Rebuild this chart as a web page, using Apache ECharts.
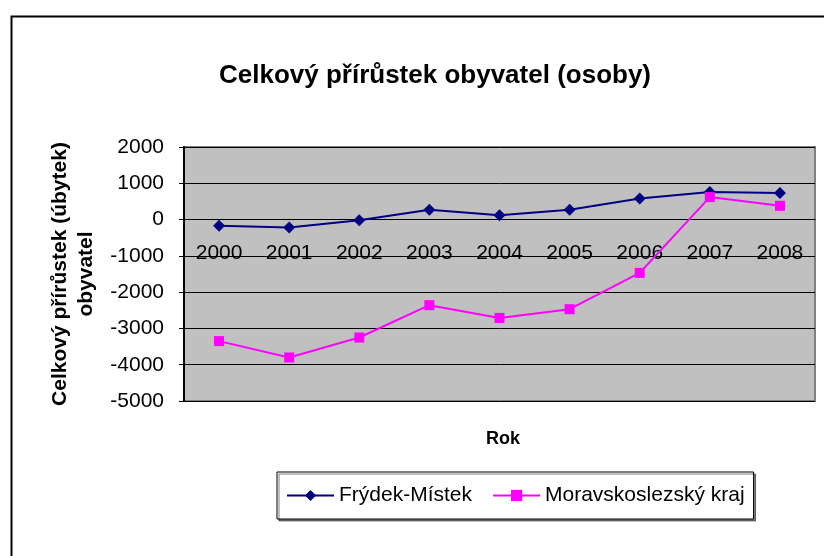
<!DOCTYPE html>
<html>
<head>
<meta charset="utf-8">
<script src="https://cdn.jsdelivr.net/npm/echarts@6/dist/echarts.min.js"></script>
<style>
html,body{margin:0;padding:0;background:#fff;}
#c{width:824px;height:556px;}
</style>
</head>
<body>
<div id="c"></div>
<script>
var categories = ['2000','2001','2002','2003','2004','2005','2006','2007','2008'];
var frydekMistek = [-170, -220, -20, 270, 120, 270, 580, 760, 730];
var moravskoslezsky = [-3350, -3800, -3250, -2360, -2710, -2470, -1470, 620, 380];
var seriesNames = ['Frýdek-Místek', 'Moravskoslezský kraj'];
var titleText = 'Celkový přírůstek obyvatel (osoby)';
var yAxisName = 'Celkový přírůstek (úbytek)\nobyvatel';
var xAxisName = 'Rok';
var yMin = -5000, yMax = 2000, yStep = 1000;

var FONT = '"Liberation Sans", Arial, sans-serif';
var GRID_TOP = 147, GRID_BOTTOM = 155, H = 556;
var plotH = H - GRID_TOP - GRID_BOTTOM;
// move the category axis (line + labels) up to the value 0, as in the original
var zeroOffset = -plotH * (0 - yMin) / (yMax - yMin);

var chart = echarts.init(document.getElementById('c'));
chart.setOption({
  animation: false,
  backgroundColor: '#fff',
  textStyle: {fontFamily: FONT},
  graphic: [{
    type: 'rect', left: 9, top: 14, silent: true, z: -10,
    shape: {width: 840, height: 570},
    style: {fill: 'none', stroke: '#000', lineWidth: 2}
  }],
  title: [{
    text: titleText, left: 430, top: 58, textAlign: 'center',
    textStyle: {fontFamily: FONT, fontSize: 26, fontWeight: 'bold', color: '#000'}
  }, {
    text: xAxisName, left: 498, top: 425, textAlign: 'center',
    textStyle: {fontFamily: FONT, fontSize: 18, fontWeight: 'bold', color: '#000'}
  }],
  legend: {
    left: 277, top: 472,
    padding: [13, 9],
    itemWidth: 47, itemHeight: 14, itemGap: 20,
    borderColor: '#000', borderWidth: 1,
    backgroundColor: '#fff',
    shadowColor: 'rgba(0,0,0,0.5)', shadowOffsetX: 2, shadowOffsetY: 2,
    textStyle: {fontFamily: FONT, fontSize: 21, color: '#000'},
    data: seriesNames
  },
  grid: {
    left: 184, right: 9, top: GRID_TOP, bottom: GRID_BOTTOM,
    show: true, backgroundColor: '#c0c0c0', borderColor: '#808080', borderWidth: 2
  },
  xAxis: {
    type: 'category', data: categories, boundaryGap: true,
    offset: zeroOffset,
    axisLine: {onZero: false, lineStyle: {color: '#000', width: 1}},
    axisTick: {show: false},
    axisLabel: {fontFamily: FONT, fontSize: 21, color: '#000', margin: 23},
    splitLine: {show: false}
  },
  yAxis: {
    type: 'value', min: yMin, max: yMax, interval: yStep,
    name: yAxisName, nameLocation: 'middle', nameRotate: 90, nameGap: 83,
    nameTextStyle: {fontFamily: FONT, fontSize: 21, fontWeight: 'bold', color: '#000', lineHeight: 26, align: 'center'},
    axisLine: {show: true, lineStyle: {color: '#000', width: 2}},
    axisTick: {show: true, length: 5, lineStyle: {color: '#000'}},
    axisLabel: {fontFamily: FONT, fontSize: 21, color: '#000', margin: 20,
      formatter: function (v) { return String(v); }},
    splitLine: {show: true, lineStyle: {color: '#000', width: 1}}
  },
  series: [{
    name: seriesNames[0], type: 'line', data: frydekMistek,
    symbol: 'diamond', symbolSize: 12, showAllSymbol: true,
    itemStyle: {color: '#000080'},
    lineStyle: {color: '#000080', width: 2}
  }, {
    name: seriesNames[1], type: 'line', data: moravskoslezsky,
    symbol: 'rect', symbolSize: 10, showAllSymbol: true,
    itemStyle: {color: '#ff00ff'},
    lineStyle: {color: '#ff00ff', width: 2}
  }]
});
</script>
</body>
</html>
